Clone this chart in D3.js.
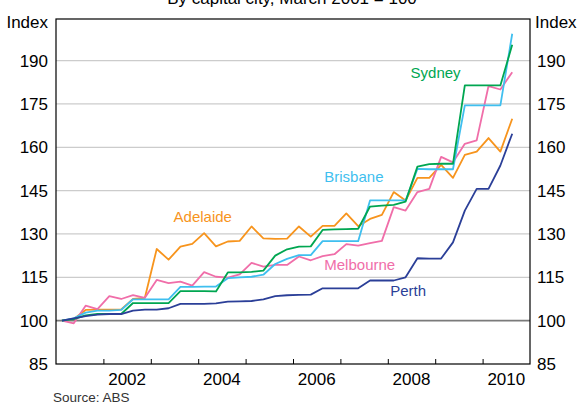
<!DOCTYPE html>
<html>
<head>
<meta charset="utf-8">
<script src="https://cdnjs.cloudflare.com/ajax/libs/d3/7.8.5/d3.min.js"></script>
<style>
body{margin:0;background:#fff;}
svg{display:block;font-family:Arial,"Liberation Sans",sans-serif;}
</style>
</head>
<body>
<div id="svgContainer"></div>
<script>
const quarters = ["2001-Q1","2001-Q2","2001-Q3","2001-Q4","2002-Q1","2002-Q2","2002-Q3","2002-Q4",
  "2003-Q1","2003-Q2","2003-Q3","2003-Q4","2004-Q1","2004-Q2","2004-Q3","2004-Q4",
  "2005-Q1","2005-Q2","2005-Q3","2005-Q4","2006-Q1","2006-Q2","2006-Q3","2006-Q4",
  "2007-Q1","2007-Q2","2007-Q3","2007-Q4","2008-Q1","2008-Q2","2008-Q3","2008-Q4",
  "2009-Q1","2009-Q2","2009-Q3","2009-Q4","2010-Q1","2010-Q2","2010-Q3"];

const sydney = [100,100.5,101.8,102.3,102.3,102.3,106.1,106.1,106.1,106.1,110.2,110.2,110.2,110.1,116.7,116.7,
  116.9,117.3,122.5,124.7,125.6,125.7,131.4,131.6,131.7,131.8,139.5,139.8,140.1,141.2,153.3,154.2,
  154.3,154.3,181.4,181.4,181.4,181.4,195.5];
const brisbane = [100,100.8,102.8,103.5,103.5,103.7,107.4,107.4,107.4,107.4,111.7,111.7,111.8,111.8,114.7,115.0,
  115.2,115.9,119.6,121.4,122.7,122.7,127.5,127.5,127.5,127.5,141.6,141.6,141.6,141.6,152.5,152.4,
  152.4,152.4,174.5,174.5,174.5,174.5,199.3];
const adelaide = [100,100.6,103.7,103.8,103.8,103.9,107.5,107.9,124.8,121.1,125.6,126.6,130.3,125.7,127.4,127.6,
  132.6,128.5,128.3,128.4,132.6,129.1,132.8,132.8,137.1,132.7,135.2,136.6,144.5,141.6,149.4,149.4,
  153.9,149.4,157.4,158.5,163.2,158.5,169.9];
const melbourne = [100,99.1,105.2,104.0,108.5,107.5,108.8,107.9,114.1,113.0,113.5,112.1,116.8,115.2,114.9,116.0,
  120.0,118.7,119.3,119.3,122.2,120.9,122.3,123.0,126.5,126.0,126.8,127.6,139.3,138.1,144.5,145.6,
  156.7,154.8,161.2,162.4,181.2,180.0,186.0];
const perth = [100,100.8,101.6,102.1,102.3,102.3,103.5,103.8,103.8,104.3,105.8,105.8,105.8,106.0,106.6,106.7,
  106.8,107.4,108.5,108.8,108.9,109.0,111.2,111.2,111.2,111.2,113.9,113.9,113.9,115.0,121.6,121.5,
  121.5,127.1,138.1,145.6,145.6,153.7,164.7];

const yTicks = [85,100,115,130,145,160,175,190];
const yearTicks = [2002,2003,2004,2005,2006,2007,2008,2009,2010];
const yearLabels = [2002,2004,2006,2008,2010];

// label anchors in data units (decimal year, index value)
const series = [
  {name:"Adelaide", values:adelaide, color:"#f7941d", lx:2003.48, ly:134.3},
  {name:"Melbourne", values:melbourne, color:"#f06ea9", lx:2006.66, ly:117.6},
  {name:"Brisbane", values:brisbane, color:"#3fbfef", lx:2006.66, ly:148},
  {name:"Sydney", values:sydney, color:"#00a651", lx:2008.48, ly:184.1},
  {name:"Perth", values:perth, color:"#2b3f98", lx:2008.05, ly:108.6}
];

const width = 579;
const height = 403;
const padL = 56, padR = 530, padT = 19, padB = 364;

function qToYear(q){
  const yr = +q.slice(0,4);
  const n = +q.slice(6);
  return yr + (n - 0.5) / 4;
}

const svg = d3.select('#svgContainer').append('svg')
  .attr('width', width).attr('height', height);

const x = d3.scaleLinear().domain([2001, 2011]).range([padL, padR]);
const y = d3.scaleLinear().domain([85, 204.4]).range([padB, padT]);

// title (cut off at top in the original)
svg.append('text')
  .attr('x', 292).attr('y', 4)
  .attr('text-anchor', 'middle')
  .style('font-size', '17px')
  .attr('fill', '#000')
  .text('By capital city, March 2001 = 100');

// gridlines
svg.append('g')
  .selectAll('line')
  .data(yTicks.filter(d => d > 85))
  .enter()
  .append('line')
  .attr('x1', padL).attr('x2', padR)
  .attr('y1', d => y(d)).attr('y2', d => y(d))
  .attr('stroke', d => d === 100 ? '#7a7a7a' : '#cccccc')
  .attr('stroke-width', d => d === 100 ? 1.8 : 1.3);

// frame
svg.append('rect')
  .attr('x', padL).attr('y', padT)
  .attr('width', padR - padL).attr('height', padB - padT)
  .attr('fill', 'none')
  .attr('stroke', '#000')
  .attr('stroke-width', 1.2);

// bottom ticks (pointing up)
const xAxis = d3.axisBottom(x)
  .tickValues(yearTicks)
  .tickSize(-5)
  .tickFormat('');
svg.append('g')
  .attr('transform', 'translate(0,' + padB + ')')
  .call(xAxis)
  .call(g => g.select('.domain').remove())
  .selectAll('line').attr('stroke', '#000').attr('stroke-width', 1);

svg.append('g')
  .selectAll('text')
  .data(yearLabels)
  .enter()
  .append('text')
  .attr('x', d => x(d + 0.5))
  .attr('y', 385)
  .attr('text-anchor', 'middle')
  .style('font-size', '17px')
  .text(d => d);

// y labels both sides
const yAxisL = d3.axisLeft(y).tickValues(yTicks).tickSize(0).tickPadding(8);
svg.append('g')
  .attr('transform', 'translate(' + padL + ',0)')
  .call(yAxisL)
  .call(g => g.select('.domain').remove())
  .selectAll('text').style('font-size', '17px').attr('fill', '#000')
  .style('font-family', 'Arial,"Liberation Sans",sans-serif');

const yAxisR = d3.axisRight(y).tickValues(yTicks).tickSize(0).tickPadding(7);
svg.append('g')
  .attr('transform', 'translate(' + padR + ',0)')
  .call(yAxisR)
  .call(g => g.select('.domain').remove())
  .selectAll('text').style('font-size', '17px').attr('fill', '#000')
  .style('font-family', 'Arial,"Liberation Sans",sans-serif');

svg.append('text').attr('x', padL - 8).attr('y', 28).attr('text-anchor', 'end')
  .style('font-size', '17px').text('Index');
svg.append('text').attr('x', padR + 5).attr('y', 28).attr('text-anchor', 'start')
  .style('font-size', '17px').text('Index');

// lines
const line = d3.line()
  .x((d, i) => x(qToYear(quarters[i])))
  .y(d => y(d));

svg.append('g')
  .selectAll('path')
  .data(series)
  .enter()
  .append('path')
  .attr('d', d => line(d.values))
  .attr('fill', 'none')
  .attr('stroke', d => d.color)
  .attr('stroke-width', 1.8)
  .attr('stroke-linejoin', 'round');

svg.append('g')
  .selectAll('text')
  .data(series)
  .enter()
  .append('text')
  .attr('x', d => x(d.lx))
  .attr('y', d => y(d.ly))
  .attr('fill', d => d.color)
  .style('font-size', '15px')
  .text(d => d.name);

svg.append('text')
  .attr('x', 53).attr('y', 402)
  .style('font-size', '13.5px')
  .attr('fill', '#333')
  .text('Source: ABS');
</script>
</body>
</html>
